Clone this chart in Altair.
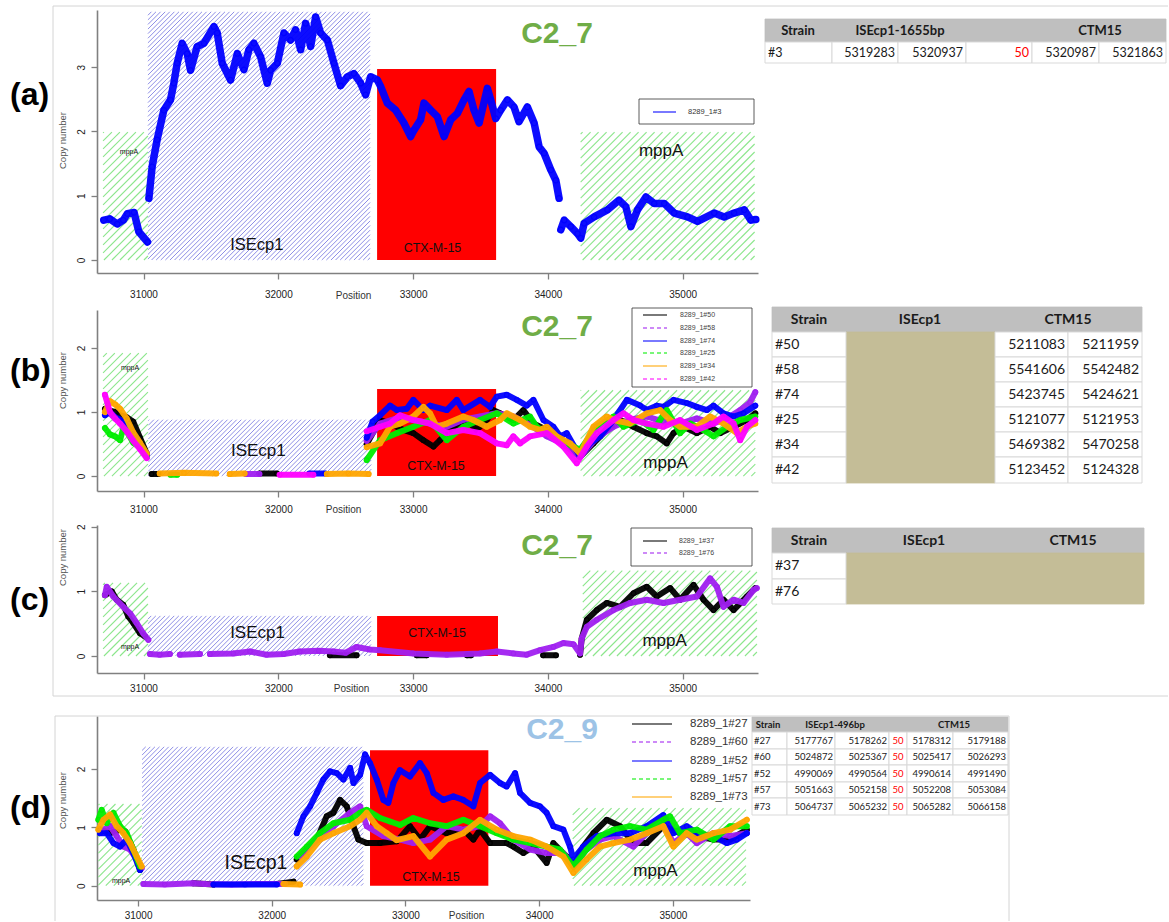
import altair as alt
import numpy as np
import pandas as pd

SANS = "Liberation Sans"
TAB = "Lato"
AX = "#808080"

C_BLACK, C_PURPLE, C_BLUE = "#000000", "#A020F0", "#0000FF"
C_GREEN, C_ORANGE, C_MAGENTA = "#00EE00", "#FFA500", "#FF00FF"
RED = "#FF0000"
HATCH_GREEN, HATCH_BLUE = "#8CE68C", "#7A7AE2"
GREEN_STEP, BLUE_STEP = 8.0, 4.6

# ---------------- series: [position, copy number]; None marks a gap ----------------
A3 = [[30705, 0.62], [30750, 0.64], [30805, 0.56], [30850, 0.62], [30880, 0.72], [30930, 0.74],
      [30965, 0.44], [31030, 0.28], None,
      [31040, 0.96], [31064, 1.45], [31101, 1.87], [31151, 2.33], [31200, 2.49], [31225, 2.75],
      [31250, 3.06], [31287, 3.37], [31324, 3.21], [31349, 2.95], [31398, 3.32], [31448, 3.37],
      [31522, 3.63], [31547, 3.53], [31584, 3.06], [31646, 2.80], [31696, 3.21], [31745, 2.96],
      [31782, 3.27], [31819, 3.37], [31869, 3.16], [31918, 2.75], [31943, 2.95], [31993, 3.06],
      [32042, 3.53], [32091, 3.42], [32128, 3.58], [32166, 3.27], [32203, 3.68], [32240, 3.32],
      [32277, 3.78], [32314, 3.53], [32364, 3.42], [32413, 3.06], [32462, 2.71], [32512, 2.85],
      [32561, 2.90], [32611, 2.75], [32648, 2.57], [32685, 2.85], [32735, 2.80], [32759, 2.70],
      [32809, 2.44], [32871, 2.33], [32932, 2.13], [32982, 1.92], [33007, 2.02], [33056, 2.18],
      [33081, 2.44], [33131, 2.33], [33180, 2.23], [33230, 1.92], [33279, 2.18], [33329, 2.28],
      [33378, 2.49], [33415, 2.62], [33452, 2.33], [33490, 2.13], [33551, 2.67], [33576, 2.49],
      [33613, 2.20], [33650, 2.33], [33700, 2.49], [33749, 2.38], [33786, 2.15], [33848, 2.38],
      [33898, 2.13], [33935, 1.76], [33972, 1.66], [34022, 1.40], [34059, 1.24], [34083, 0.96], None,
      [34096, 0.47], [34121, 0.62], [34170, 0.52], [34220, 0.41], [34244, 0.34], [34269, 0.57],
      [34343, 0.67], [34442, 0.78], [34528, 0.93], [34578, 0.83], [34616, 0.52], [34665, 0.78],
      [34727, 0.98], [34789, 0.88], [34863, 0.88], [34937, 0.73], [35036, 0.67], [35110, 0.60],
      [35234, 0.73], [35308, 0.67], [35382, 0.73], [35457, 0.78], [35506, 0.62], [35543, 0.63]]

B50 = [[30714, 1.05], [30751, 1.02], [30789, 1.00], [30826, 0.95], [30875, 0.92], [30924, 0.85],
       [30974, 0.60], [31024, 0.35], None, [31060, 0.03], [31110, 0.03], None,
       [31860, 0.04], [31990, 0.04], None,
       [32656, 0.50], [32755, 0.875], [32829, 0.82], [32928, 0.72], [33002, 0.67], [33077, 0.56],
       [33151, 0.46], [33200, 0.56], [33299, 0.77], [33398, 0.875], [33472, 0.72], [33546, 0.875],
       [33596, 1.03], [33645, 0.98], [33744, 0.875], [33818, 1.03], [33893, 0.82], [33992, 0.72],
       [34066, 0.56], [34140, 0.51], [34239, 0.30], [34338, 0.51], [34437, 0.72], [34536, 0.875],
       [34635, 0.77], [34734, 0.67], [34808, 0.62], [34882, 0.51], [34932, 0.67], [35006, 0.77],
       [35105, 0.67], [35204, 0.77], [35279, 0.67], [35378, 0.77], [35477, 0.875], [35539, 0.98]]
B58 = [[30714, 1.00], [30751, 0.98], [30789, 0.90], [30826, 0.85], [30875, 0.75], [30924, 0.60],
       [30974, 0.45], [31024, 0.30], None, [31760, 0.03], [31860, 0.03], None,
       [32656, 0.55], [32755, 0.82], [32880, 0.90], [33002, 0.875], [33126, 0.82], [33250, 0.77],
       [33373, 0.88], [33497, 0.93], [33621, 0.98], [33744, 0.93], [33868, 0.80], [33992, 0.62],
       [34115, 0.50], [34239, 0.30], [34363, 0.60], [34487, 0.77], [34610, 0.88], [34734, 0.93],
       [34858, 0.85], [34981, 0.82], [35105, 0.90], [35229, 0.82], [35328, 0.90], [35427, 1.03],
       [35500, 1.15], [35539, 1.31]]
B74 = [[30714, 0.95], [30751, 1.00], [30789, 0.92], [30826, 0.88], [30875, 0.80], [30924, 0.65],
       [30974, 0.50], [31024, 0.30], None, [32230, 0.04], [32350, 0.04], None,
       [32656, 0.60], [32700, 0.85], [32755, 0.95], [32829, 1.10], [32879, 1.03], [32953, 1.05],
       [33002, 1.19], [33077, 1.03], [33126, 1.10], [33250, 1.03], [33324, 1.19], [33373, 1.03],
       [33497, 1.19], [33571, 1.08], [33621, 1.24], [33695, 1.27], [33769, 1.19], [33843, 1.10],
       [33893, 1.19], [33967, 0.875], [34041, 0.77], [34091, 0.62], [34140, 0.67], [34239, 0.30],
       [34313, 0.51], [34388, 0.62], [34487, 0.875], [34586, 1.19], [34685, 1.10], [34734, 1.03],
       [34808, 1.10], [34858, 1.08], [34932, 1.19], [35031, 1.14], [35105, 1.08], [35180, 1.03],
       [35229, 1.10], [35303, 0.98], [35378, 0.93], [35452, 0.98], [35539, 1.10]]
B25 = [[30714, 0.75], [30751, 0.65], [30789, 0.62], [30826, 0.56], [30850, 0.75], [30875, 0.70],
       [30924, 0.52], [30974, 0.45], [31024, 0.30], None, [31200, 0.02], [31250, 0.02], None,
       [32656, 0.25], [32755, 0.56], [32879, 0.67], [33002, 0.77], [33126, 0.875], [33250, 0.56],
       [33373, 0.77], [33497, 0.875], [33621, 0.98], [33744, 0.82], [33868, 0.93], [33917, 0.77],
       [33992, 0.67], [34091, 0.56], [34239, 0.41], [34363, 0.77], [34487, 0.93], [34561, 0.77],
       [34685, 0.875], [34784, 0.72], [34882, 1.03], [34981, 0.67], [35056, 0.82], [35155, 0.72],
       [35229, 0.62], [35328, 0.77], [35427, 0.875], [35539, 0.93]]
B34 = [[30714, 1.00], [30751, 1.17], [30789, 1.12], [30826, 1.05], [30875, 0.90], [30924, 0.68],
       [30974, 0.52], [31024, 0.35], None, [31120, 0.04], [31300, 0.05], [31540, 0.04], None,
       [31640, 0.03], [31750, 0.04], None, [32360, 0.03], [32520, 0.04], [32670, 0.03], None,
       [32656, 0.45], [32755, 0.51], [32829, 0.77], [32903, 0.82], [33002, 0.93], [33077, 1.08],
       [33126, 0.98], [33175, 0.77], [33250, 0.82], [33373, 0.93], [33447, 0.875], [33546, 0.77],
       [33645, 0.875], [33695, 0.98], [33794, 0.875], [33868, 0.77], [33942, 0.72], [33992, 0.77],
       [34066, 0.62], [34165, 0.51], [34239, 0.35], [34338, 0.77], [34437, 0.93], [34487, 0.875],
       [34610, 0.82], [34734, 0.98], [34833, 1.03], [34907, 0.875], [34981, 0.77], [35105, 0.77],
       [35204, 0.93], [35303, 0.82], [35402, 0.67], [35477, 0.77], [35539, 0.82]]
B42 = [[30714, 1.27], [30751, 1.00], [30789, 0.90], [30826, 0.82], [30875, 0.70], [30924, 0.55],
       [30974, 0.42], [31024, 0.28], None, [32010, 0.02], [32260, 0.02], None,
       [32656, 0.70], [32755, 0.77], [32829, 0.82], [32903, 0.95], [33002, 0.875], [33126, 0.82],
       [33250, 0.67], [33373, 0.72], [33497, 0.67], [33621, 0.51], [33695, 0.48], [33744, 0.62],
       [33794, 0.51], [33868, 0.62], [33992, 0.67], [34115, 0.46], [34214, 0.20], [34289, 0.46],
       [34363, 0.67], [34487, 0.875], [34561, 0.98], [34635, 0.875], [34734, 0.82], [34858, 0.77],
       [34981, 0.875], [35105, 0.72], [35229, 0.82], [35303, 0.93], [35378, 0.82], [35427, 0.56],
       [35477, 0.77], [35539, 0.875]]

C37 = [[30714, 0.94], [30764, 1.00], [30801, 0.87], [30850, 0.79], [30887, 0.61], [30924, 0.51],
       [30974, 0.35], [31011, 0.30], None, [32383, 0.01], [32581, 0.01], None,
       [33027, 0.01], [33101, 0.01], None, [33400, 0.01], [33430, 0.01], None,
       [33965, 0.01], [34060, 0.01], None,
       [34239, 0.02], [34251, 0.27], [34289, 0.56], [34363, 0.71], [34437, 0.82], [34536, 0.76],
       [34635, 0.97], [34734, 1.07], [34808, 0.92], [34907, 1.05], [34981, 0.87], [35081, 1.10],
       [35155, 0.87], [35229, 0.71], [35303, 0.87], [35378, 0.71], [35477, 0.92], [35539, 1.05]]
C76 = [[30714, 0.94], [30727, 1.07], [30776, 0.92], [30850, 0.76], [30900, 0.66], [30949, 0.51],
       [30998, 0.35], [31036, 0.25], None, [31048, 0.03], [31120, 0.02], [31196, 0.03], None,
       [31270, 0.02], [31419, 0.03], None,
       [31493, 0.03], [31666, 0.04], [31790, 0.07], [31913, 0.02], [32040, 0.03], [32160, 0.07],
       [32300, 0.08], [32408, 0.07], [32500, 0.05], [32581, 0.14], [32680, 0.10], [32755, 0.09],
       [33002, 0.04], [33250, 0.02], [33497, 0.04], [33621, 0.07], [33744, 0.04], [33843, 0.02],
       [33942, 0.09], [34041, 0.14], [34115, 0.20], [34190, 0.18], [34239, 0.04], [34251, 0.27],
       [34289, 0.45], [34363, 0.56], [34487, 0.71], [34610, 0.82], [34734, 0.87], [34858, 0.82],
       [34981, 0.87], [35105, 0.92], [35204, 1.20], [35254, 1.07], [35303, 0.76], [35378, 0.87],
       [35452, 0.82], [35526, 1.02], [35550, 1.05]]

D27 = [[30716, 0.96], [30791, 0.90], [30865, 0.96], [30903, 0.93], [30965, 0.62], [31015, 0.27], None,
       [31414, 0.04], [31564, 0.02], None, [32038, 0.03], [32163, 0.07], None,
       [32187, 0.45], [32262, 0.62], [32337, 0.79], [32411, 1.19], [32461, 1.25], [32511, 1.47],
       [32561, 1.36], [32611, 1.02], [32648, 0.79], [32710, 0.73], [32810, 0.73], [32935, 0.76],
       [33034, 1.02], [33109, 0.79], [33184, 1.02], [33308, 0.90], [33433, 0.96], [33508, 0.79],
       [33558, 0.96], [33633, 0.73], [33757, 0.73], [33807, 0.67], [33882, 0.56], [33957, 0.67],
       [34056, 0.39], [34106, 0.73], [34206, 0.50], [34256, 0.33], [34330, 0.67], [34405, 0.90],
       [34505, 1.13], [34605, 1.02], [34704, 0.73], [34804, 0.73], [34929, 1.02], [35054, 0.90],
       [35179, 0.85], [35303, 0.79], [35428, 0.79], [35553, 0.96]]
D60 = [[30716, 0.93], [30791, 1.02], [30840, 0.85], [30890, 0.67], [30940, 0.62], [30990, 0.45],
       [31027, 0.30], None, [31040, 0.03], [31200, 0.02], [31414, 0.04], [31500, 0.03],
       [31700, 0.02], [31900, 0.03], [32100, 0.03], None,
       [32212, 0.50], [32337, 0.79], [32461, 1.02], [32586, 1.25], [32661, 1.36], [32710, 1.02],
       [32835, 0.85], [32960, 0.79], [33059, 0.73], [33184, 0.79], [33308, 1.02], [33433, 0.96],
       [33558, 1.02], [33633, 1.19], [33707, 1.07], [33807, 0.79], [33932, 0.62], [34056, 0.56],
       [34181, 0.56], [34256, 0.33], [34355, 0.62], [34455, 0.79], [34555, 0.85], [34704, 0.67],
       [34804, 0.90], [34929, 1.07], [35004, 0.73], [35104, 0.90], [35179, 0.73], [35303, 0.90],
       [35428, 0.85], [35553, 0.90]]
D52 = [[30716, 0.90], [30766, 0.90], [30816, 0.73], [30865, 0.67], [30915, 0.79], [30965, 0.56],
       [31015, 0.27], None, [31564, 0.02], [31800, 0.02], [32038, 0.02], None,
       [32187, 0.90], [32237, 1.19], [32287, 1.36], [32337, 1.59], [32386, 1.82], [32436, 1.96],
       [32486, 1.93], [32536, 1.82], [32586, 2.02], [32611, 1.76], [32661, 1.90], [32698, 2.25],
       [32735, 2.10], [32785, 1.82], [32835, 1.47], [32872, 1.42], [32910, 1.76], [32959, 1.98],
       [33034, 1.87], [33109, 2.10], [33159, 1.93], [33209, 1.59], [33284, 1.47], [33358, 1.53],
       [33433, 1.47], [33508, 1.36], [33558, 1.76], [33633, 1.90], [33707, 1.76], [33757, 1.70],
       [33820, 1.93], [33857, 1.59], [33932, 1.42], [34006, 1.36], [34056, 1.25], [34106, 1.02],
       [34181, 0.96], [34231, 0.67], [34256, 0.45], [34330, 0.67], [34430, 0.85], [34555, 0.90],
       [34680, 0.90], [34804, 1.02], [34929, 1.21], [35004, 0.90], [35104, 1.02], [35179, 0.90],
       [35303, 0.85], [35403, 0.73], [35478, 0.79], [35553, 0.90]]
D57 = [[30703, 1.13], [30728, 1.30], [30766, 1.07], [30816, 1.25], [30865, 1.02], [30915, 0.90],
       [30965, 0.62], [31015, 0.33], None,
       [32187, 0.50], [32262, 0.67], [32361, 0.90], [32461, 1.07], [32586, 1.13], [32661, 1.25],
       [32710, 1.30], [32810, 1.16], [32885, 1.10], [32960, 1.04], [33059, 1.16], [33184, 1.07],
       [33308, 1.02], [33433, 1.13], [33558, 1.02], [33683, 0.90], [33807, 0.79], [33932, 0.73],
       [34056, 0.67], [34156, 0.62], [34256, 0.33], [34355, 0.62], [34455, 0.85], [34555, 0.96],
       [34680, 1.02], [34804, 0.96], [34929, 1.13], [34979, 1.19], [35054, 0.90], [35179, 0.96],
       [35303, 0.79], [35428, 1.02], [35553, 1.02]]
D73 = [[30703, 0.96], [30741, 1.13], [30791, 1.22], [30840, 1.02], [30890, 0.90], [30940, 0.73],
       [30990, 0.50], [31027, 0.33], None, [32088, 0.03], [32212, 0.02], None,
       [32187, 0.33], [32262, 0.50], [32361, 0.79], [32461, 0.90], [32586, 1.02], [32661, 1.13],
       [32710, 1.25], [32785, 1.02], [32860, 0.90], [32935, 0.78], [33059, 0.85], [33184, 0.50],
       [33308, 0.79], [33433, 0.90], [33558, 1.13], [33683, 0.96], [33807, 0.85], [33932, 0.79],
       [34056, 0.67], [34181, 0.50], [34256, 0.22], [34355, 0.45], [34455, 0.67], [34555, 0.73],
       [34680, 0.79], [34804, 0.90], [34929, 1.02], [35004, 0.67], [35104, 0.90], [35179, 0.79],
       [35303, 0.90], [35428, 0.96], [35553, 1.13]]

# ---------------- gene regions: [start, end, top] ----------------
REG = {
    "a": {"green": [[30700, 31033, 1.99], [34243, 35534, 1.99]], "blue": [[31033, 32681, 3.86]],
          "red": [[32733, 33616, 2.97]]},
    "b": {"green": [[30700, 31033, 1.92], [34243, 35539, 1.34]], "blue": [[31036, 32690, 0.88]],
          "red": [[32733, 33616, 1.36]]},
    "c": {"green": [[30700, 31033, 1.13], [34259, 35551, 1.32]], "blue": [[31033, 32688, 0.62]],
          "red": [[32733, 33630, 0.62]]},
    "d": {"green": [[30703, 31028, 1.40], [34251, 35547, 1.33]], "blue": [[31030, 32685, 2.38]],
          "red": [[32735, 33620, 2.32]]},
}
# gene labels: [text, position, copy number, font size]
GENE_LABELS = {
    "a": [["mppA", 30892, 1.68, 7], ["ISEcp1", 31840, 0.23, 16.5], ["CTX-M-15", 33144, 0.18, 12.5],
          ["mppA", 34840, 1.70, 17]],
    "b": [["mppA", 30900, 1.69, 7], ["ISEcp1", 31852, 0.39, 17], ["CTX-M-15", 33170, 0.16, 12.5],
          ["mppA", 34873, 0.20, 17]],
    "c": [["mppA", 30900, 0.14, 7], ["ISEcp1", 31846, 0.36, 17], ["CTX-M-15", 33178, 0.35, 12.5],
          ["mppA", 34866, 0.23, 17]],
    "d": [["mppA", 30873, 0.08, 7], ["ISEcp1", 31882, 0.39, 19.5], ["CTX-M-15", 33191, 0.15, 12.5],
          ["mppA", 34870, 0.25, 17]],
}

# strain name, series, colour, dashed legend key
SERIES = {
    "a": [["8289_1#3", A3, C_BLUE, False]],
    "b": [["8289_1#50", B50, C_BLACK, False], ["8289_1#58", B58, C_PURPLE, True],
          ["8289_1#74", B74, C_BLUE, False], ["8289_1#25", B25, C_GREEN, True],
          ["8289_1#34", B34, C_ORANGE, False], ["8289_1#42", B42, C_MAGENTA, True]],
    "c": [["8289_1#37", C37, C_BLACK, False], ["8289_1#76", C76, C_PURPLE, True]],
    "d": [["8289_1#27", D27, C_BLACK, False], ["8289_1#60", D60, C_PURPLE, True],
          ["8289_1#52", D52, C_BLUE, False], ["8289_1#57", D57, C_GREEN, True],
          ["8289_1#73", D73, C_ORANGE, False]],
}

# ---------------- tables ----------------
TA_HEAD = ["Strain", "ISEcp1-1655bp", "CTM15"]
TA_ROWS = [["#3", "5319283", "5320937", "50", "5320987", "5321863"]]
TB_HEAD = ["Strain", "ISEcp1", "CTM15"]
TB_STRAIN = ["#50", "#58", "#74", "#25", "#34", "#42"]
TB_CTM_START = ["5211083", "5541606", "5423745", "5121077", "5469382", "5123452"]
TB_CTM_END = ["5211959", "5542482", "5424621", "5121953", "5470258", "5124328"]
TC_HEAD = ["Strain", "ISEcp1", "CTM15"]
TC_STRAIN = ["#37", "#76"]
TD_HEAD = ["Strain", "ISEcp1-496bp", "CTM15"]
TD_STRAIN = ["#27", "#60", "#52", "#57", "#73"]
TD_IS_START = ["5177767", "5024872", "4990069", "5051663", "5064737"]
TD_IS_END = ["5178262", "5025367", "4990564", "5052158", "5065232"]
TD_GAP = ["50", "50", "50", "50", "50"]
TD_CTM_START = ["5178312", "5025417", "4990614", "5052208", "5065282"]
TD_CTM_END = ["5179188", "5026293", "4991490", "5053084", "5066158"]

# ---------------- layout (pixels) ----------------
GEOM = {
    "a": dict(ox=97, oy=10, W=661, H=263, xdom=[30655, 35559], ydom=[-0.202, 3.888], yv=[0, 1, 2, 3],
              lp=10, tx=256, ty=22, yty=130, lw=7.5, ps=28),
    "b": dict(ox=97, oy=310, W=661, H=181, xdom=[30655, 35559], ydom=[-0.234, 2.594], yv=[0, 1, 2],
              lp=7, tx=246, ty=18, yty=70, lw=6, ps=20),
    "c": dict(ox=97, oy=525, W=661, H=148, xdom=[30655, 35559], ydom=[-0.263, 2.025], yv=[0, 1, 2],
              lp=4, tx=254, ty=15, yty=32, lw=6, ps=20),
    "d": dict(ox=97, oy=716, W=653, H=184, xdom=[30693, 35577], ydom=[-0.245, 2.908], yv=[0, 1, 2],
              lp=4, tx=369, ty=15, yty=84, lw=6, ps=20),
}
GAPS = [37, 34, 43]


def hatch(reg, g, step):
    x0, x1, top = reg
    W, H, xd, yd = g["W"], g["H"], g["xdom"], g["ydom"]
    sx = W / (xd[1] - xd[0])
    sy = H / (yd[1] - yd[0])
    X0, X1 = (x0 - xd[0]) * sx, (x1 - xd[0]) * sx
    Y0, Y1 = (0 - yd[0]) * sy, (top - yd[0]) * sy
    out = []
    c = (Y0 - X1) + step * 0.5
    while c < Y1 - X0:
        lo, hi = max(X0, Y0 - c), min(X1, Y1 - c)
        if hi - lo > 0.3:
            out.append({"hx": xd[0] + lo / sx, "hy": yd[0] + (lo + c) / sy,
                        "hx2": xd[0] + hi / sx, "hy2": yd[0] + (hi + c) / sy})
        c += step
    return out


def seg_frame(name, pairs):
    rows, seg = [], 0
    for p in pairs:
        if p is None:
            seg += 1
            continue
        rows.append({"pos": p[0], "cn": p[1], "seg": f"{name}-{seg}"})
    return pd.DataFrame(rows)


def data_layer(key):
    g = GEOM[key]
    xs = alt.Scale(domain=g["xdom"], nice=False, zero=False)
    ys = alt.Scale(domain=g["ydom"], nice=False, zero=False)
    xax = alt.Axis(values=[31000, 32000, 33000, 34000, 35000], format="d", grid=False,
                   title="Position", titleX=g["tx"], titleY=g["ty"], titleAlign="center",
                   titleBaseline="middle", titleFont=SANS, titleFontSize=10, titleFontWeight="normal",
                   titleColor="#333333", labelFont=SANS, labelFontSize=10, labelColor="#222222",
                   labelPadding=g["lp"], tickSize=6, tickColor=AX, tickWidth=1.3, domainColor=AX,
                   domainWidth=1.6, labelFlush=False)
    yax = alt.Axis(values=g["yv"], format="d", grid=False, title="Copy number", titleY=g["yty"],
                   titleFont=SANS, titleFontSize=9.5, titleFontWeight="normal", titleColor="#555555",
                   titlePadding=9, labelAngle=270, labelAlign="center", labelBaseline="bottom",
                   labelPadding=5, labelFont=SANS, labelFontSize=10, labelColor="#222222",
                   tickSize=6, tickColor=AX, tickWidth=1.3, domainColor=AX, domainWidth=1.6)

    def X(f):
        return alt.X(f, type="quantitative", scale=xs, axis=xax)

    def Y(f):
        return alt.Y(f, type="quantitative", scale=ys, axis=yax)

    reg = REG[key]
    layers = []
    green = [s for r in reg["green"] for s in hatch(r, g, GREEN_STEP)]
    blue = [s for r in reg["blue"] for s in hatch(r, g, BLUE_STEP)]
    layers.append(alt.Chart(pd.DataFrame(green)).mark_rule(color=HATCH_GREEN, strokeWidth=1.1).encode(
        x=X("hx"), y=Y("hy"), x2="hx2:Q", y2="hy2:Q"))
    layers.append(alt.Chart(pd.DataFrame(blue)).mark_rule(color=HATCH_BLUE, strokeWidth=0.85).encode(
        x=X("hx"), y=Y("hy"), x2="hx2:Q", y2="hy2:Q"))
    red = pd.DataFrame([{"x0": r[0], "x1": r[1], "y0": 0, "y1": r[2]} for r in reg["red"]])
    layers.append(alt.Chart(red).mark_rect(color=RED).encode(
        x=X("x0"), x2="x1:Q", y=Y("y0"), y2="y1:Q"))
    labs = pd.DataFrame(GENE_LABELS[key], columns=["t", "pos", "cn", "fs"])
    for fs, sub in labs.groupby("fs"):
        layers.append(alt.Chart(sub).mark_text(font=SANS, fontSize=float(fs), color="#111111",
                                               align="center", baseline="middle").encode(
            x=X("pos"), y=Y("cn"), text="t:N"))
    for name, pairs, col, _ in SERIES[key]:
        df = seg_frame(name, pairs)
        layers.append(alt.Chart(df).mark_line(
            color=col, strokeWidth=g["lw"], strokeJoin="round", strokeCap="round", opacity=0.95).encode(
            x=X("pos"), y=Y("cn"), detail="seg:N"))
        layers.append(alt.Chart(df).mark_point(
            shape="circle", filled=False, color=col, size=g["ps"], strokeWidth=1.2, opacity=0.9).encode(
            x=X("pos"), y=Y("cn")))
    return alt.layer(*layers)


def overlay(key, rects, rules, texts):
    g = GEOM[key]
    ox, oy, W, H = g["ox"], g["oy"], g["W"], g["H"]
    xs = alt.Scale(domain=[0, W], nice=False, zero=False)
    ys = alt.Scale(domain=[0, H], reverse=True, nice=False, zero=False)

    def X(f):
        return alt.X(f, type="quantitative", scale=xs, axis=None)

    def Y(f):
        return alt.Y(f, type="quantitative", scale=ys, axis=None)

    layers = []
    if rects:
        df = pd.DataFrame(rects, columns=["x", "y", "x2", "y2", "f", "s", "sw"])
        df["x"] -= ox; df["x2"] -= ox; df["y"] -= oy; df["y2"] -= oy
        for sw, sub in df.groupby("sw"):
            layers.append(alt.Chart(sub).mark_rect(strokeWidth=float(sw)).encode(
                x=X("x"), x2="x2:Q", y=Y("y"), y2="y2:Q",
                fill=alt.Fill("f:N", scale=None), stroke=alt.Stroke("s:N", scale=None)))
    if rules:
        df = pd.DataFrame(rules, columns=["x", "y", "x2", "y2", "c", "w", "dash", "op"])
        df["x"] -= ox; df["x2"] -= ox; df["y"] -= oy; df["y2"] -= oy
        for (w, dash, op), sub in df.groupby(["w", "dash", "op"]):
            mk = dict(strokeWidth=float(w), opacity=float(op))
            if dash:
                mk["strokeDash"] = [4, 3]
            layers.append(alt.Chart(sub).mark_rule(**mk).encode(
                x=X("x"), x2="x2:Q", y=Y("y"), y2="y2:Q", color=alt.Color("c:N", scale=None)))
    if texts:
        df = pd.DataFrame(texts, columns=["x", "y", "t", "c", "font", "fs", "fw", "al"])
        df["x"] -= ox; df["y"] -= oy
        for (font, fs, fw, al), sub in df.groupby(["font", "fs", "fw", "al"]):
            layers.append(alt.Chart(sub).mark_text(font=font, fontSize=float(fs), fontWeight=fw,
                                                   align=al, baseline="middle").encode(
                x=X("x"), y=Y("y"), text="t:N", color=alt.Color("c:N", scale=None)))
    return alt.layer(*layers)


HEAD_FILL, CELL_LINE, TAN = "#BFBFBF", "#D9D9D9", "#C4BD97"
FRAME = "#D4D4D4"


def legend_items(key, box, ys_, lx, tx, fs, tcol):
    rects, rules, texts = [], [], []
    if box:
        rects.append([box[0], box[1], box[2], box[3], "#FFFFFF", "#333333", 0.8])
    for (name, _, col, dashed), yy in zip(SERIES[key], ys_):
        rules.append([lx[0], yy, lx[1], yy, col, 1.5, dashed, 0.7])
        texts.append([tx, yy, name, tcol, SANS, fs, "normal", "left"])
    return rects, rules, texts


def row(key):
    rects, rules, texts = [], [], []
    if key == "a":
        r, l, t = legend_items("a", [639, 99, 754, 124], [112], [653, 676], 688, 7.5, "#333333")
        rects += r; rules += l; texts += t
        texts.append([10, 95, "(a)", "#000000", SANS, 32, "bold", "left"])
        texts.append([557, 34, "C2_7", "#70AD47", SANS, 30, "bold", "center"])
        cols, rws = [765, 832, 898, 966, 1032, 1099, 1166], [19, 42, 63]
        rects.append([cols[0], rws[0], cols[-1], rws[1], HEAD_FILL, HEAD_FILL, 0.8])
        for i in range(6):
            rects.append([cols[i], rws[1], cols[i + 1], rws[2], "#FFFFFF", CELL_LINE, 1.0])
        for txt, cx in zip(TA_HEAD, [798, 900, 1100]):
            texts.append([cx, 30.5, txt, "#1A1A1A", TAB, 13, "bold", "center"])
        vals = TA_ROWS[0]
        texts.append([cols[0] + 3, 52.5, vals[0], "#1A1A1A", TAB, 12.5, "normal", "left"])
        for i in range(1, 6):
            texts.append([cols[i + 1] - 3, 52.5, vals[i], RED if vals[i] == "50" else "#1A1A1A",
                          TAB, 12.5, "normal", "right"])
        # outer frame of panels (a)-(c)
        rules.append([53, 6, 1168, 6, FRAME, 1.0, False, 1.0])
        rules.append([53, 6, 53, 696, FRAME, 1.0, False, 1.0])
        rules.append([53, 696, 1168, 696, FRAME, 1.0, False, 1.0])
    elif key == "b":
        r, l, t = legend_items("b", [632, 308, 752, 387], [315, 328, 341, 353, 366, 379],
                               [643, 667], 680, 7, "#444444")
        rects += r; rules += l; texts += t
        texts.append([10, 371, "(b)", "#000000", SANS, 32, "bold", "left"])
        texts.append([557, 327, "C2_7", "#70AD47", SANS, 30, "bold", "center"])
        cols, rws = [772, 846, 995, 1068, 1142], [307, 332, 357, 382, 407, 432, 457, 483]
        rects.append([cols[0], rws[0], cols[-1], rws[1], HEAD_FILL, HEAD_FILL, 0.8])
        for i in range(6):
            for c0, c1 in [(0, 1), (2, 3), (3, 4)]:
                rects.append([cols[c0], rws[i + 1], cols[c1], rws[i + 2], "#FFFFFF", CELL_LINE, 1.0])
        rects.append([cols[1], rws[1], cols[2], rws[-1], TAN, TAN, 0.8])
        for txt, cx in zip(TB_HEAD, [809, 920, 1068]):
            texts.append([cx, 319.5, txt, "#1A1A1A", TAB, 14, "bold", "center"])
        for i in range(6):
            cy = (rws[i + 1] + rws[i + 2]) / 2
            texts.append([cols[0] + 3, cy, TB_STRAIN[i], "#1A1A1A", TAB, 14, "normal", "left"])
            texts.append([cols[3] - 3, cy, TB_CTM_START[i], "#1A1A1A", TAB, 14, "normal", "right"])
            texts.append([cols[4] - 3, cy, TB_CTM_END[i], "#1A1A1A", TAB, 14, "normal", "right"])
    elif key == "c":
        r, l, t = legend_items("c", [631, 528, 752, 566], [541, 553], [643, 667], 679, 7, "#444444")
        rects += r; rules += l; texts += t
        texts.append([10, 600, "(c)", "#000000", SANS, 32, "bold", "left"])
        texts.append([557, 546, "C2_7", "#70AD47", SANS, 30, "bold", "center"])
        cols, rws = [772, 846, 1144], [528, 553, 579, 604]
        rects.append([cols[0], rws[0], cols[-1], rws[1], HEAD_FILL, HEAD_FILL, 0.8])
        for i in range(2):
            rects.append([cols[0], rws[i + 1], cols[1], rws[i + 2], "#FFFFFF", CELL_LINE, 1.0])
        rects.append([cols[1], rws[1], cols[2], rws[-1], TAN, TAN, 0.8])
        for txt, cx in zip(TC_HEAD, [809, 924, 1073]):
            texts.append([cx, 540.5, txt, "#1A1A1A", TAB, 14, "bold", "center"])
        for i in range(2):
            cy = (rws[i + 1] + rws[i + 2]) / 2
            texts.append([cols[0] + 3, cy, TC_STRAIN[i], "#1A1A1A", TAB, 14, "normal", "left"])
    else:
        r, l, t = legend_items("d", None, [724, 742, 761, 779, 797], [632, 672], 690, 11.5, "#333333")
        rects += r; rules += l; texts += t
        texts.append([10, 808, "(d)", "#000000", SANS, 32, "bold", "left"])
        texts.append([562, 730, "C2_9", "#9DC3E6", SANS, 30, "bold", "center"])
        cols, rws = [752, 787, 835, 889, 907, 953, 1008], [717, 732, 749, 765, 782, 798, 815]
        rects.append([cols[0], rws[0], cols[-1], rws[1], HEAD_FILL, HEAD_FILL, 0.8])
        for i in range(5):
            for c in range(6):
                rects.append([cols[c], rws[i + 1], cols[c + 1], rws[i + 2], "#FFFFFF", CELL_LINE, 1.0])
        for txt, cx in zip(TD_HEAD, [768, 835, 954]):
            texts.append([cx, 724.5, txt, "#1A1A1A", TAB, 9.5, "bold", "center"])
        for i in range(5):
            cy = (rws[i + 1] + rws[i + 2]) / 2
            texts.append([cols[0] + 2, cy, TD_STRAIN[i], "#1A1A1A", TAB, 9.5, "normal", "left"])
            texts.append([cols[2] - 2, cy, TD_IS_START[i], "#1A1A1A", TAB, 9.5, "normal", "right"])
            texts.append([cols[3] - 2, cy, TD_IS_END[i], "#1A1A1A", TAB, 9.5, "normal", "right"])
            texts.append([(cols[3] + cols[4]) / 2, cy, TD_GAP[i], RED, TAB, 9.5, "normal", "center"])
            texts.append([cols[5] - 2, cy, TD_CTM_START[i], "#1A1A1A", TAB, 9.5, "normal", "right"])
            texts.append([cols[6] - 2, cy, TD_CTM_END[i], "#1A1A1A", TAB, 9.5, "normal", "right"])
        rules.append([55, 716, 1009, 716, FRAME, 1.0, False, 1.0])
        rules.append([55, 716, 55, 921, FRAME, 1.0, False, 1.0])
        rules.append([1009, 716, 1009, 921, FRAME, 1.0, False, 1.0])
    g = GEOM[key]
    return alt.layer(data_layer(key), overlay(key, rects, rules, texts)).resolve_scale(
        x="independent", y="independent").properties(width=g["W"], height=g["H"])


def spacer(h):
    return alt.Chart(pd.DataFrame({"v": [0]})).mark_text(opacity=0).encode(
        text=alt.value("")).properties(width=10, height=h)


chart = alt.vconcat(row("a"), spacer(GAPS[0]), row("b"), spacer(GAPS[1]), row("c"),
                    spacer(GAPS[2]), row("d"), spacing=0, bounds="flush").properties(
    padding={"left": 10, "top": 5, "right": 0, "bottom": 0}
).configure_view(stroke=None)

chart.save("out.html", embed_options={"renderer": "svg", "actions": False})
